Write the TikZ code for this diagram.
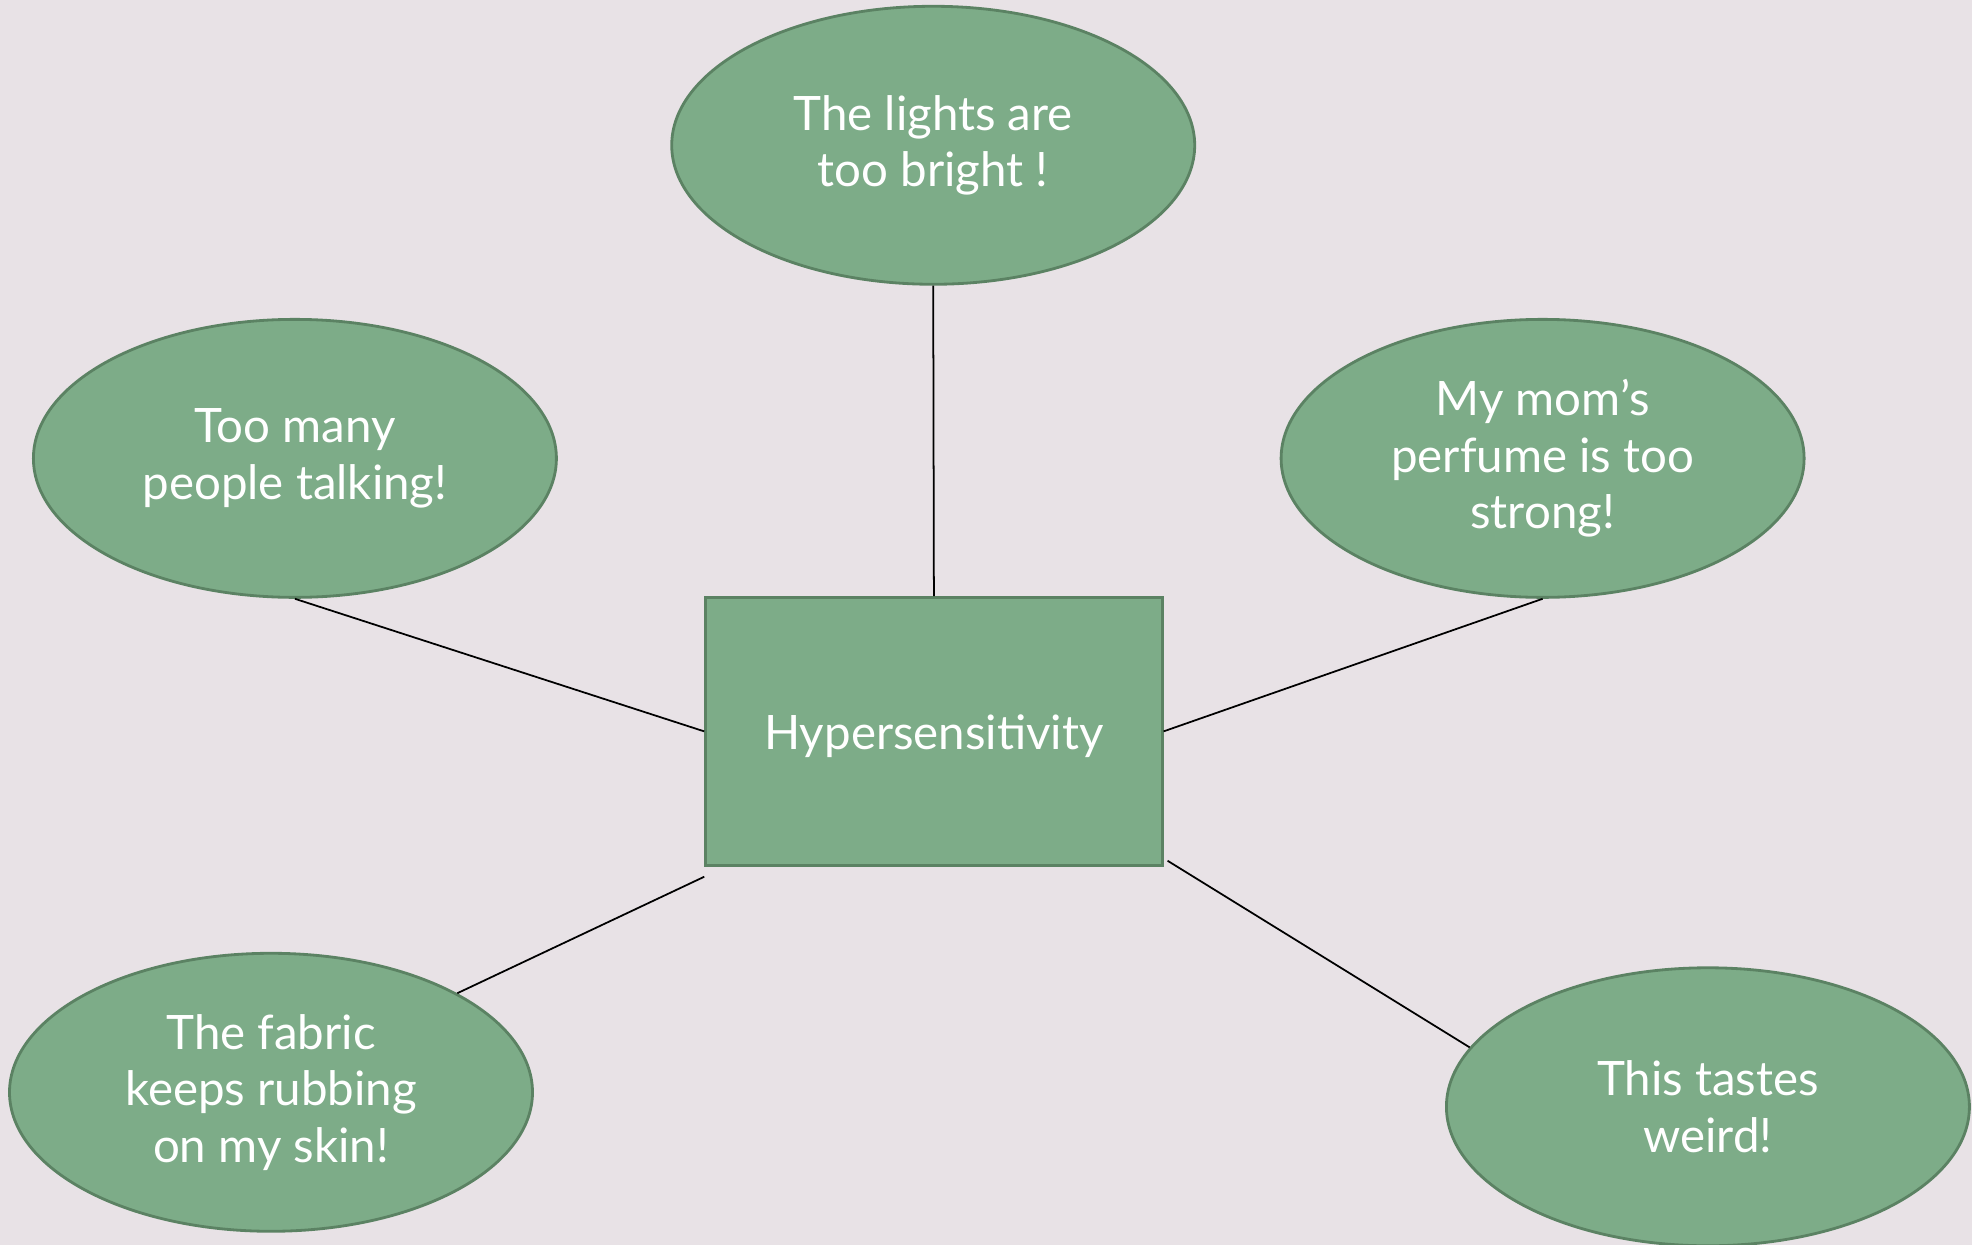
\documentclass[tikz,border=0pt]{standalone}
\usepackage{fontspec}
\setmainfont{Lato}
\usetikzlibrary{shapes.geometric}
\definecolor{bgcol}{HTML}{E8E2E6}
\definecolor{leaf}{HTML}{7DAC88}
\definecolor{leafdark}{HTML}{5B8263}
\tikzset{
    bubble/.style={ellipse, draw=leafdark, line width=0.8pt, fill=leaf, minimum width=5.23cm, minimum height=2.78cm, inner sep=0pt, align=center, text=white, font=\fontsize{13.5}{16.1}\selectfont, execute at begin node={\rule{0pt}{12.8pt}}},
    hub/.style={rectangle, draw=leafdark, line width=0.8pt, fill=leaf, minimum width=4.565cm, minimum height=2.679cm, inner sep=0pt, text=white, font=\fontsize{13.5}{16.1}\selectfont, execute at begin node={\rule{0pt}{12.8pt}}},
    link/.style={draw=black, line width=0.5pt}
}
\begin{document}
\begin{tikzpicture}
                \fill[bgcol] (0,0) rectangle (19.72,12.45); %background
                \useasboundingbox (0,0) rectangle (19.72,12.45);
                \node[hub] (hyp) at (9.339,5.136) {Hypersensitivity};
                \node[bubble] (lights) at (9.332,10.997) {The lights are\\too bright !};
                \node[bubble] (talk) at (2.949,7.866) {Too many\\people talking!};
                \node[bubble] (perfume) at (15.426,7.866) {My mom’s\\perfume is too\\strong!};
                \node[bubble] (fabric) at (2.710,1.527) {The fabric\\keeps rubbing\\on my skin!};
                \node[bubble] (taste) at (17.079,1.382) {This tastes\\weird!};
                % loose ends below the box
                \coordinate (hypsw) at ([shift={(0,-0.1)}]hyp.south west);
                \coordinate (hypse) at ([shift={(0.04,0.06)}]hyp.south east);
                \draw[link] (lights.south) -- (hyp.north);
                \draw[link] (talk.south) -- (hyp.west);
                \draw[link] (perfume.south) -- (hyp.east);
                \draw[link] (hypsw) -- (fabric.28);
                \draw[link] (hypse) -- (taste.166);
                \end{tikzpicture}
\end{document}
